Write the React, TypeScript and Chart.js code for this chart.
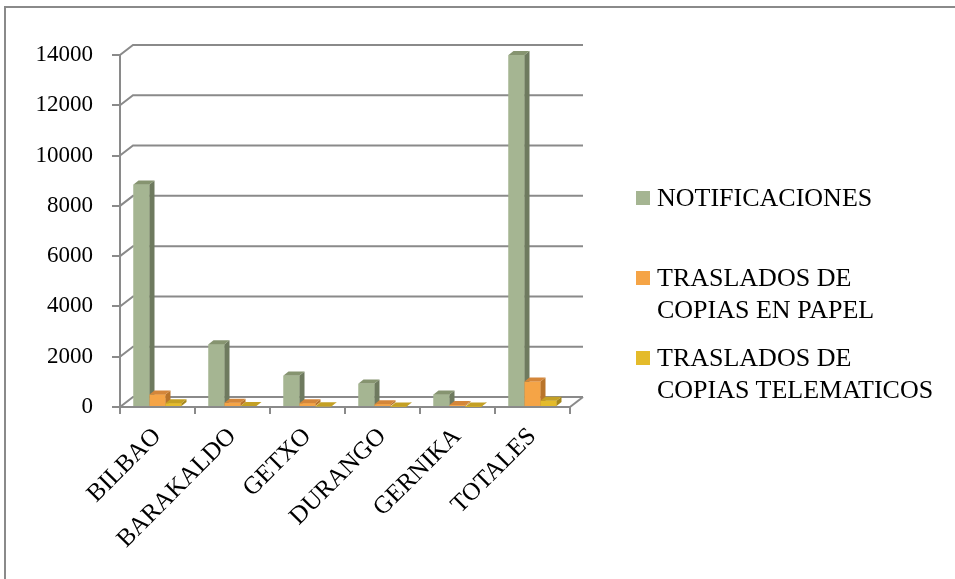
import React, { useEffect, useRef } from "react";
import { Chart, registerables } from "chart.js";

Chart.register(...registerables);

const categories = ["BILBAO", "BARAKALDO", "GETXO", "DURANGO", "GERNIKA", "TOTALES"];
const notificaciones = [8850, 2500, 1250, 930, 500, 14000];
const papel = [500, 170, 150, 110, 80, 1010];
const telematicos = [150, 40, 30, 20, 15, 250];
const seriesNames = ["NOTIFICACIONES", "TRASLADOS DE\nCOPIAS EN PAPEL", "TRASLADOS DE\nCOPIAS TELEMATICOS"];
const yTickValues = [0, 2000, 4000, 6000, 8000, 10000, 12000, 14000];

const frontColors = ["#A5B592", "#F5A446", "#E4BB2B"];
const sideColors = ["#6E7A5F", "#B9742A", "#A6871C"];
const topColors = ["#869470", "#D4863A", "#C4A024"];
const GRID = "#8a8a8a";
const FONT = "'Liberation Serif', 'DejaVu Serif', serif";

const WALL_DX = 13;
const WALL_DY = -10;
const BAR_DX = 5;
const BAR_DY = -4;

const wallPlugin = {
  id: "wall3d",
  beforeDatasetsDraw(chart: any) {
    const { ctx, chartArea, scales } = chart;
    const y = scales.y;
    ctx.save();
    ctx.strokeStyle = GRID;
    ctx.lineWidth = 2;
    for (const v of yTickValues) {
      const py = y.getPixelForValue(v);
      ctx.beginPath();
      ctx.moveTo(chartArea.left, py);
      ctx.lineTo(chartArea.left + WALL_DX, py + WALL_DY);
      ctx.lineTo(chartArea.right + WALL_DX, py + WALL_DY);
      ctx.stroke();
    }
    const pb = y.getPixelForValue(0);
    ctx.beginPath();
    ctx.moveTo(chartArea.right, pb);
    ctx.lineTo(chartArea.right + WALL_DX, pb + WALL_DY);
    ctx.stroke();
    ctx.restore();
  },
};

const barsPlugin = {
  id: "bars3d",
  afterDatasetsDraw(chart: any) {
    const { ctx } = chart;
    const n = chart.data.datasets.length;
    ctx.save();
    for (let j = 0; j < chart.data.labels.length; j++) {
      for (let i = 0; i < n; i++) {
        const el = chart.getDatasetMeta(i).data[j];
        if (!el) continue;
        const { x, y, base, width } = el.getProps(["x", "y", "base", "width"], true);
        const l = x - width / 2;
        const r = x + width / 2;
        ctx.fillStyle = frontColors[i];
        ctx.fillRect(l, y, width, base - y);
        ctx.fillStyle = sideColors[i];
        ctx.beginPath();
        ctx.moveTo(r, y);
        ctx.lineTo(r + BAR_DX, y + BAR_DY);
        ctx.lineTo(r + BAR_DX, base + BAR_DY);
        ctx.lineTo(r, base);
        ctx.closePath();
        ctx.fill();
        ctx.fillStyle = topColors[i];
        ctx.beginPath();
        ctx.moveTo(l, y);
        ctx.lineTo(l + BAR_DX, y + BAR_DY);
        ctx.lineTo(r + BAR_DX, y + BAR_DY);
        ctx.lineTo(r, y);
        ctx.closePath();
        ctx.fill();
      }
    }
    ctx.restore();
  },
};

export default function App() {
  const ref = useRef<HTMLCanvasElement | null>(null);

  useEffect(() => {
    document.body.style.margin = "0";
    const canvas = ref.current;
    if (!canvas) return;
    const chart = new Chart(canvas, {
      type: "bar",
      data: {
        labels: categories,
        datasets: [notificaciones, papel, telematicos].map((d, i) => ({
          label: seriesNames[i].replace("\n", " "),
          data: d,
          backgroundColor: frontColors[i],
          borderWidth: 0,
          categoryPercentage: 0.64,
          barPercentage: 1,
        })),
      },
      options: {
        animation: false,
        responsive: false,
        devicePixelRatio: 1,
        layout: { padding: { top: 55, right: 385, left: 0, bottom: 0 } },
        plugins: { legend: { display: false }, tooltip: { enabled: false } },
        scales: {
          x: {
            grid: { display: true, drawOnChartArea: false, tickLength: 7, color: GRID, lineWidth: 2, offset: true },
            border: { display: true, color: GRID, width: 2 },
            ticks: { font: { family: FONT, size: 25 }, color: "#000", maxRotation: 45, minRotation: 45, padding: 8, autoSkip: false },
            afterFit: (s: any) => { s.height = 172; },
          },
          y: {
            min: 0,
            max: 14000,
            afterBuildTicks: (s: any) => { s.ticks = yTickValues.map((v) => ({ value: v })); },
            ticks: { font: { family: FONT, size: 23 }, color: "#000", padding: 19, callback: (v: any) => String(v) },
            grid: { drawOnChartArea: false, tickLength: 8, color: GRID, lineWidth: 2 },
            border: { display: true, color: GRID, width: 2 },
            afterFit: (s: any) => { s.width = 120; },
          },
        },
      },
      plugins: [wallPlugin, barsPlugin],
    });
    return () => chart.destroy();
  }, []);

  const itemTops = [182, 262, 342];

  return (
    <div style={{ position: "relative", width: 955, height: 579, overflow: "hidden", background: "#fff" }}>
      <div style={{ position: "absolute", left: 4, top: 6, width: 1000, height: 700, borderLeft: `2px solid ${GRID}`, borderTop: `2px solid ${GRID}` }} />
      <canvas ref={ref} width={955} height={579} style={{ position: "absolute", left: 0, top: 0, width: 955, height: 579 }} />
      {seriesNames.map((name, i) => (
        <div key={name} style={{ position: "absolute", left: 636, top: itemTops[i], display: "flex", alignItems: "flex-start" }}>
          <div style={{ width: 14, height: 14, marginTop: 9, background: frontColors[i] }} />
          <div style={{ marginLeft: 7, fontFamily: FONT, fontSize: 26, lineHeight: "32px", color: "#000", whiteSpace: "pre-line" }}>{name}</div>
        </div>
      ))}
    </div>
  );
}
